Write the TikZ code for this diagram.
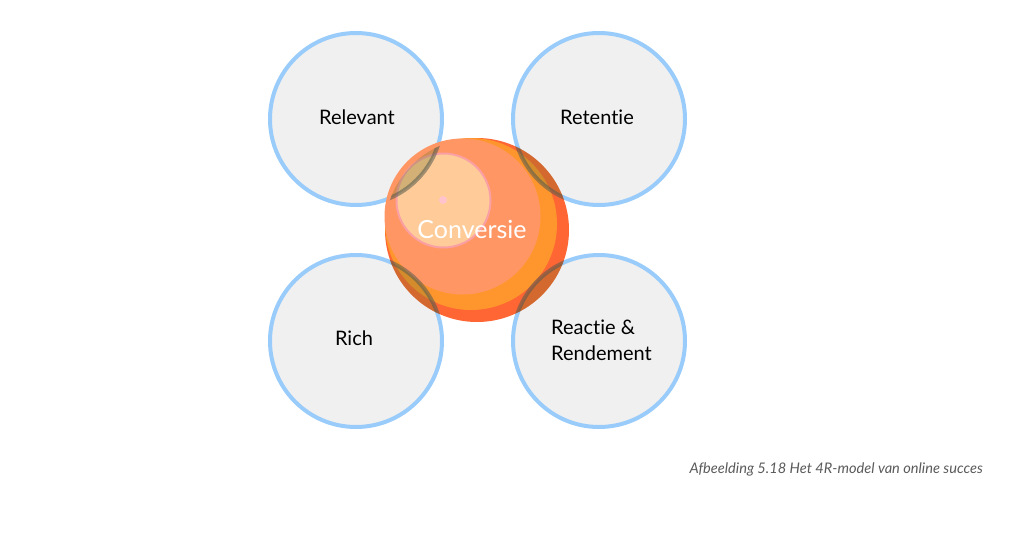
\documentclass[tikz,border=0pt]{standalone}
\usepackage{fontspec}
\setmainfont{Lato}[Ligatures={NoCommon}]
\definecolor{ringblue}{RGB}{153,204,250}
\definecolor{greyfill}{RGB}{240,240,240}
\definecolor{orthree}{RGB}{255,102,51}
\definecolor{ortwo}{RGB}{255,150,45}
\definecolor{salmon}{RGB}{255,150,100}
\definecolor{peach}{RGB}{255,204,153}
\definecolor{pinkring}{RGB}{250,160,165}
\definecolor{pinkdot}{RGB}{255,195,205}
\definecolor{olivetint}{RGB}{110,115,40}
\definecolor{darkring}{RGB}{85,90,80}
\definecolor{captiongrey}{RGB}{90,90,90}
\begin{document}
\begin{tikzpicture}[x=1pt,y=-1pt,
  rcircle/.style={circle, minimum size=172pt, fill=greyfill, draw=ringblue, line width=4pt, inner sep=0pt},
  rlabel/.style={font=\fontsize{20}{26}\selectfont, text=black, align=left, inner sep=0pt},
  overlapfill/.style={fill=olivetint, opacity=0.3},
  overlapring/.style={draw=darkring, line width=4pt, opacity=0.55}]
\useasboundingbox (0,0) rectangle (1023,552);
% outer circles
\node[rcircle] (relevant) at (356,119) {};
\node[rcircle] (retentie) at (599,119) {};
\node[rcircle] (rich) at (356,341) {};
\node[rcircle] (reactie) at (599,341) {};
% sphere
\node[circle, minimum size=184pt, inner sep=0pt, fill=orthree] (conv) at (477,230) {};
\fill[ortwo] (471,224) circle (86);
\fill[salmon] (462.5,216.5) circle (78);
\filldraw[fill=peach, draw=pinkring, line width=2pt] (443.5,200.5) circle (47);
\fill[pinkdot] (443,200) circle (4);
% overlaps
\begin{scope}
  \clip (477,230) circle (92);
  \foreach \c in {relevant,retentie,rich,reactie}{
    \fill[overlapfill] (\c.center) circle (86);
    \draw[overlapring] (\c.center) circle (86);
  }
\end{scope}
% labels
\node[rlabel] (relevantlabel) at (357,117) {Relevant};
\node[rlabel] (retentielabel) at (597,117) {Retentie};
\node[rlabel] (richlabel) at (354,338) {Rich};
\node[rlabel, anchor=west] (reactielabel) at (551,340) {Reactie \&\\Rendement};
\node[font=\fontsize{25}{29}\selectfont, text=white, inner sep=0pt] (convlabel) at (472,229) {Conversie};
\node[font=\itshape\fontsize{14.6}{18}\selectfont, text=captiongrey, anchor=east, inner sep=0pt] (caption) at (983,469) {Afbeelding 5.18 Het 4R-model van online succes};
\end{tikzpicture}
\end{document}
